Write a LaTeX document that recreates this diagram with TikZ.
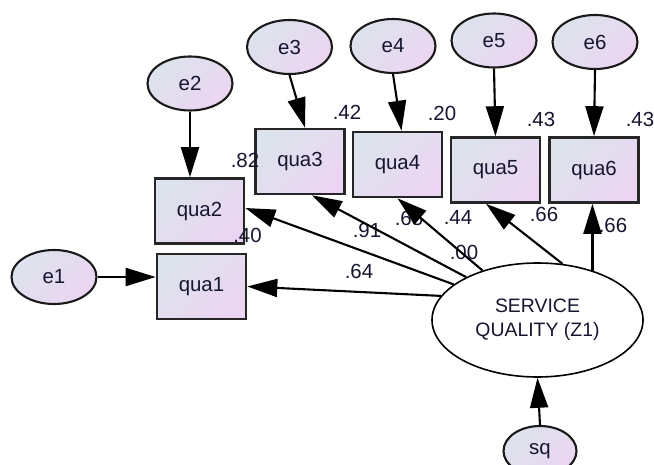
\documentclass[tikz,border=0pt]{standalone}
\usepackage{fontspec}
\setmainfont{Liberation Sans}
\usetikzlibrary{arrows.meta,shapes.geometric}
\definecolor{shadeL}{RGB}{220,227,236}
\definecolor{shadeR}{RGB}{236,213,242}
\definecolor{ink}{RGB}{22,22,48}
\begin{document}
\begin{tikzpicture}[x=1bp,y=-1bp,
  every node/.style={font=\fontsize{20.5}{24}\selectfont, text=ink},
  obs/.style={draw=black!85, line width=2.6bp, rectangle, minimum width=89bp,
    minimum height=65bp, inner sep=0pt, left color=shadeL, right color=shadeR,
    shading angle=45},
  err/.style={draw=black!90, line width=2.1bp, ellipse, minimum width=85bp,
    minimum height=54bp, inner sep=0pt, left color=shadeL, right color=shadeR,
    shading angle=45},
  lat/.style={draw=black, line width=1.6bp, ellipse, fill=white,
    minimum width=211bp, minimum height=114bp, align=center, inner sep=0pt},
  regpath/.style={line width=2.1bp, black, -{Triangle[length=30bp,width=18bp]}},
  est/.style={inner sep=0pt}
]
\useasboundingbox (0,0) rectangle (654,465);
\clip (0,0) rectangle (654,465);
\fill[white] (0,0) rectangle (654,465);

% error terms
\node[err] (e1) at (54,277) {e1};
\node[err] (e2) at (190,83.5) {e2};
\node[err] (e3) at (289.5,47) {e3};
\node[err] (e4) at (393,46) {e4};
\node[err] (e5) at (494,40.5) {e5};
\node[err] (e6) at (595,42) {e6};
\node[err, minimum width=73bp, minimum height=50bp] (sq) at (540,451) {sq};

% observed indicators
\node[obs] (q1) at (201.5,286.5) {qua1};
\node[obs] (q2) at (199.5,211) {qua2};
\node[obs] (q3) at (300,161.5) {qua3};
\node[obs] (q4) at (397.5,164.5) {qua4};
\node[obs] (q5) at (495.5,170) {qua5};
\node[obs] (q6) at (594,170) {qua6};

% latent construct
\node[lat, font=\fontsize{19.5}{24}\selectfont] (sv) at (537.5,320) {SERVICE\\QUALITY (Z1)};

% squared multiple correlations
\node[est] (r1) at (247.5,235) {.40};
\node[est] (r2) at (245,160) {.82};
\node[est] (r3) at (347,112) {.42};
\node[est] (r4) at (442,113) {.20};
\node[est] (r5) at (541,119) {.43};
\node[est] (r6) at (640,119) {.43};

% standardized loadings and latent mean
\node[est] (l1) at (359,271) {.64};
\node[est] (l2) at (367,230) {.91};
\node[est] (l3) at (409,218) {.65};
\node[est] (l4) at (458,217) {.44};
\node[est] (mn) at (464,252) {.00};
\node[est] (l5) at (544,214) {.66};
\node[est] (l6) at (613,225) {.66};

% error paths
\draw[regpath] (e1.east) -- (e1.east -| q1.west);
\draw[regpath] (e2.south) -- (e2.south |- q2.north);
\draw[regpath] (e3.south) -- ([xshift=5bp]q3.north);
\draw[regpath] (e4.south) -- ([xshift=4bp]q4.north);
\draw[regpath] (e5.south) -- (q5.north);
\draw[regpath] (e6.south) -- (q6.north);
\draw[regpath] (sq.north) -- (sv.south);

% loading paths
\draw[regpath] (sv.166) -- (q1.east);
\draw[regpath] (sv.157) -- ([yshift=3bp]q2.east);
\draw[regpath] (sv.149) -- ([xshift=12bp]q3.south);
\draw[regpath] (sv.138) -- (q4.south);
\draw[regpath] (sv.66) -- ([xshift=-9.5bp]q5.south);
\draw[regpath] (sv.42) -- (sv.42 |- q6.south);
\end{tikzpicture}
\end{document}
